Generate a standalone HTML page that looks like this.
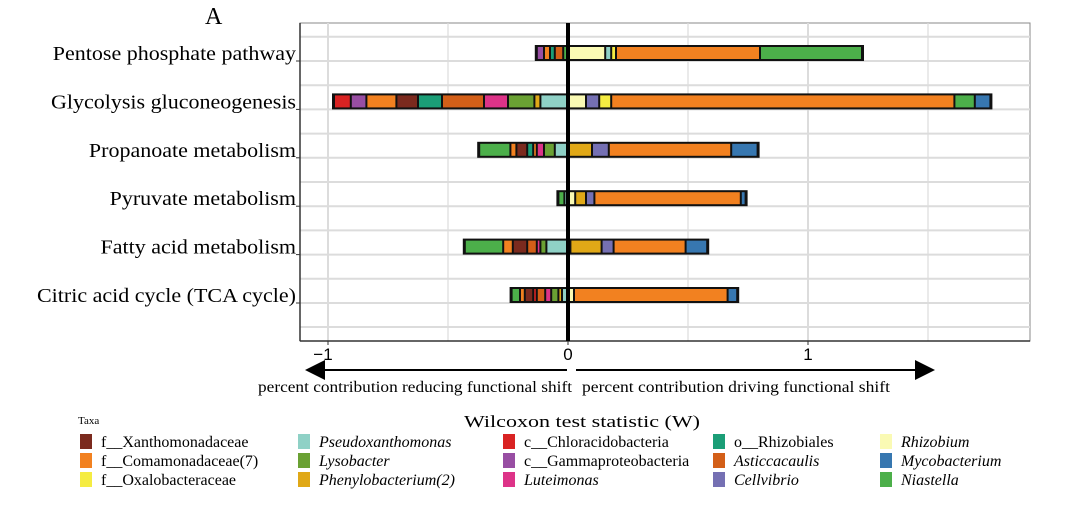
<!DOCTYPE html>
<html><head><meta charset="utf-8"><style>
body{margin:0;background:#fff;width:1068px;height:517px;overflow:hidden;font-family:"Liberation Serif",serif}
svg text{font-family:"Liberation Serif",serif}
</style></head><body>
<svg id="chart" width="1068" height="517">
<text x="205" y="24" font-size="24">A</text>
<g id="grid"></g><g id="bars"></g><g id="labels"></g>
</svg>
<script>
const categories=["Pentose phosphate pathway","Glycolysis gluconeogenesis","Propanoate metabolism","Pyruvate metabolism","Fatty acid metabolism","Citric acid cycle (TCA cycle)"];
const negTaxa=[["nia","ast","rzb","com","gam"],["pse","phe","lys","lut","ast","rzb","xan","com","gam","chl"],["pse","lys","lut","com","rzb","xan","com","nia"],["pse","nia"],["pse","lys","lut","ast","xan","com","nia"],["pse","phe","lys","lut","ast","chl","xan","com","nia"]];
const negVals=[[0.02,0.035,0.02,0.025,0.03],[0.115,0.025,0.11,0.1,0.175,0.1,0.09,0.125,0.065,0.07],[0.055,0.045,0.03,0.015,0.025,0.045,0.025,0.13],[0.015,0.025],[0.09,0.025,0.015,0.04,0.06,0.04,0.16],[0.025,0.015,0.03,0.025,0.035,0.015,0.035,0.02,0.035]];
const posTaxa=[["rhi","pse","oxa","com","nia"],["rhi","cel","oxa","com","nia","myc"],["phe","cel","com","myc"],["rhi","phe","cel","com","myc"],["rhi","phe","cel","com","myc"],["rhi","com","myc"]];
const posVals=[[0.155,0.025,0.02,0.6,0.425],[0.075,0.055,0.05,1.43,0.085,0.065],[0.1,0.07,0.51,0.11],[0.03,0.045,0.035,0.61,0.02],[0.01,0.13,0.05,0.3,0.09],[0.025,0.64,0.04]];
const xTicks=[-1,0,1];
const xGrid=[-1,-0.5,0,0.5,1,1.5];
const colors={xan:"#7b2a1e",com:"#f28120",oxa:"#f5ec42",pse:"#8fd1c6",lys:"#6aa133",phe:"#e0a817",chl:"#d92323",gam:"#984ea3",lut:"#dd3388",rzb:"#1b9e77",ast:"#d35f18",cel:"#7570b3",rhi:"#fafab4",myc:"#3777b0",nia:"#4caf4a"};
const NS="http://www.w3.org/2000/svg";
const L=300,R=1030,T=23,B=341;
const x=v=>568+v*240;
const y=i=>53+i*48.4;
function mk(tag,attrs,parent){const e=document.createElementNS(NS,tag);for(const k in attrs)e.setAttribute(k,attrs[k]);parent.appendChild(e);return e;}
const grid=document.getElementById('grid'),bars=document.getElementById('bars'),labels=document.getElementById('labels');
let p=mk('rect',{x:L,y:T,width:R-L,height:B-T,fill:'#fff',stroke:'#888','stroke-width':1},grid);


xGrid.forEach(v=>{const g=mk('line',{x1:x(v),x2:x(v),y1:T,y2:B,stroke:'#dcdcdc','stroke-width':v%1===0?2:1.2},grid);

});
categories.forEach((c,i)=>{
[y(i)+8,y(i)+8-24.2].forEach(gy=>{const g=mk('line',{x1:L,x2:R,y1:gy,y2:gy,stroke:'#dcdcdc','stroke-width':2},grid);

});
const t=mk('text',{x:296,y:y(i)+7,'text-anchor':'end','font-size':20},labels);t.textContent=c;


t.setAttribute('textLength',(t.getComputedTextLength()*1.1).toFixed(1));
t.setAttribute('lengthAdjust','spacingAndGlyphs');
mk('line',{x1:L,x2:L-4,y1:y(i)+8,y2:y(i)+8,stroke:'#333'},labels);});
{const g=mk('line',{x1:L,x2:R,y1:327,y2:327,stroke:'#dcdcdc','stroke-width':2},grid);

}
mk('line',{x1:L,x2:R,y1:B,y2:B,stroke:'#333','stroke-width':1.5},grid);
mk('line',{x1:L,x2:L,y1:T,y2:B,stroke:'#333','stroke-width':1.5},grid);
categories.forEach((c,i)=>{
 let neg=negVals[i].reduce((a,b)=>a+b,0),pos=posVals[i].reduce((a,b)=>a+b,0);
 const o=mk('rect',{x:x(-neg)-2,y:y(i)-8,width:x(pos)-x(-neg)+4,height:16,fill:'#111'},bars);
 
 
 let acc=0;
 negVals[i].forEach((v,j)=>{const r=mk('rect',{x:x(-(acc+v))+1,y:y(i)-6,width:Math.max(0.8,x(-acc)-x(-(acc+v))-2),height:12,fill:colors[negTaxa[i][j]]},bars);acc+=v;
 
 });
 acc=0;
 posVals[i].forEach((v,j)=>{const r=mk('rect',{x:x(acc)+1,y:y(i)-6,width:Math.max(0.8,x(acc+v)-x(acc)-2),height:12,fill:colors[posTaxa[i][j]]},bars);acc+=v;
 
 });
});
const z=mk('line',{x1:x(0),x2:x(0),y1:T,y2:B,stroke:'#000','stroke-width':4},bars);


xTicks.forEach(v=>{mk('line',{x1:x(v),x2:x(v),y1:B,y2:B+4,stroke:'#333'},labels);
const t=mk('text',{x:x(v)-(v<0?5:0),y:B+19,'text-anchor':'middle','font-size':17,'font-family':'Liberation Sans'},labels);t.textContent=v<0?'\u22121':String(v);
t.setAttribute('style','font-family:"Liberation Sans",sans-serif');

});
</script>
<svg style="position:absolute;left:0;top:0" width="1068" height="517">
<defs><marker id="ah" markerWidth="10" markerHeight="10" refX="9" refY="5" orient="auto"><path d="M0,0 L10,5 L0,10 z" fill="#000"/></marker></defs>
<line x1="567" y1="370" x2="307" y2="370" stroke="#000" stroke-width="2" marker-end="url(#ah)"/>
<line x1="576" y1="370" x2="933" y2="370" stroke="#000" stroke-width="2" marker-end="url(#ah)"/>
<text x="258" y="392" textLength="314" lengthAdjust="spacingAndGlyphs" font-size="16" font-family="Liberation Serif">percent contribution reducing functional shift</text>
<text x="582" y="392" textLength="308" lengthAdjust="spacingAndGlyphs" font-size="16" font-family="Liberation Serif">percent contribution driving functional shift</text>
<text x="464" y="427" textLength="236" lengthAdjust="spacingAndGlyphs" font-size="17" font-family="Liberation Serif">Wilcoxon test statistic (W)</text>
<text x="78" y="424" font-size="11" font-family="Liberation Sans">Taxa</text>
</svg>
<div id="legend" style="position:absolute;left:0;top:0;font-family:'Liberation Serif',serif;font-size:16px"></div>
<script>
const legendItems=[["xan","f__Xanthomonadaceae",0],["com","f__Comamonadaceae(7)",0],["oxa","f__Oxalobacteraceae",0],["pse","Pseudoxanthomonas",1],["lys","Lysobacter",1],["phe","Phenylobacterium(2)",1],["chl","c__Chloracidobacteria",0],["gam","c__Gammaproteobacteria",0],["lut","Luteimonas",1],["rzb","o__Rhizobiales",0],["ast","Asticcacaulis",1],["cel","Cellvibrio",1],["rhi","Rhizobium",1],["myc","Mycobacterium",1],["nia","Niastella",1]];
const colX=[80,298,503,713,880];
const rowY=[434,453,472];
const lg=document.getElementById('legend');
legendItems.forEach((it,k)=>{const c=Math.floor(k/3),r=k%3;
const d=document.createElement('div');


d.style.cssText=`position:absolute;left:${colX[c]}px;top:${rowY[r]}px;white-space:nowrap;line-height:18px;font-style:${it[2]?'italic':'normal'}`;
d.innerHTML=`<span style="display:inline-block;width:12px;height:15px;background:${colors[it[0]]};vertical-align:-2px;margin-right:9px"></span>${it[1]}`;
lg.appendChild(d);});
</script>
</body></html>
